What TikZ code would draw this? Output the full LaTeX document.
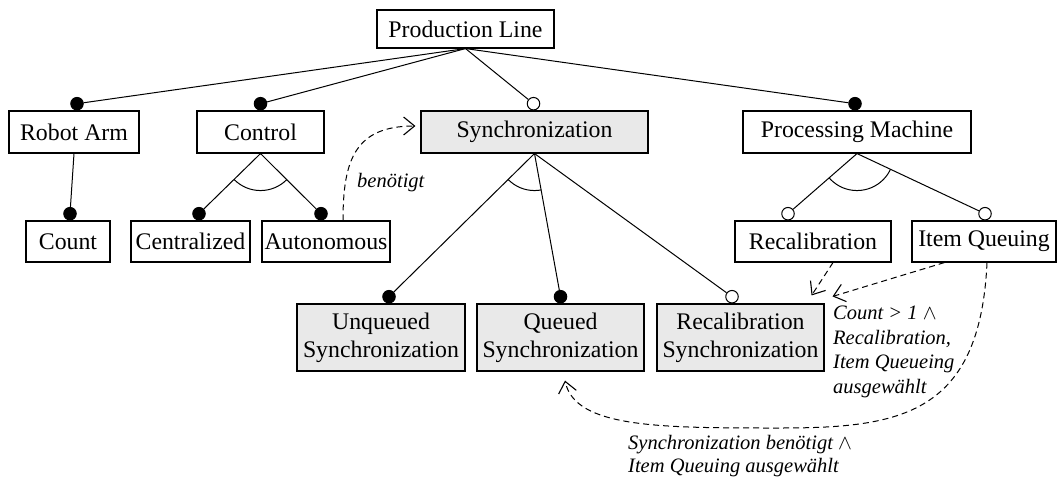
\documentclass[tikz,border=0pt]{standalone}
\usepackage{fontspec}
\setmainfont{Liberation Serif}
\usetikzlibrary{arrows.meta,calc}
\definecolor{featfill}{RGB}{233,233,233}
\begin{document}
\begin{tikzpicture}[x=1pt,y=1pt,
  feature/.style={draw, line width=1.1pt, inner sep=0pt,
    font=\fontsize{23.8}{28}\selectfont, align=center, minimum height=42pt},
  abstractfeat/.style={feature, fill=featfill},
  mand/.style={circle, draw, fill=black, line width=1pt, inner sep=0pt, minimum size=12.5pt, anchor=south},
  opt/.style={circle, draw, fill=white, line width=1pt, inner sep=0pt, minimum size=12.5pt, anchor=south},
  link/.style={line width=1pt},
  dep/.style={line width=1pt, dash pattern=on 6pt off 4pt,
    -{Straight Barb[length=11pt,width=18pt,line width=1.1pt]}},
  note/.style={font=\fontsize{20.5}{24.5}\selectfont\itshape, inner sep=0pt, align=left}
]
\useasboundingbox (0,0) rectangle (1059,-479);

% features
\node[feature, minimum width=177pt, minimum height=38pt] (prod) at (465.5,-29) {Production Line};
\node[feature, minimum width=130pt] (robot) at (74,-132) {Robot Arm};
\node[feature, minimum width=127pt] (control) at (260.5,-132) {Control};
\node[abstractfeat, minimum width=227pt] (sync) at (534.5,-132) {Synchronization};
\node[feature, minimum width=228pt] (pm) at (857,-132) {Processing Machine};
\node[feature, minimum width=84pt, minimum height=41pt] (count) at (68,-241.5) {Count};
\node[feature, minimum width=119pt, minimum height=41pt] (central) at (190.5,-241.5) {Centralized};
\node[feature, minimum width=128pt, minimum height=41pt] (auto) at (326,-241.5) {Autonomous};
\node[feature, minimum width=156pt, minimum height=41pt] (recal) at (813,-241.5) {Recalibration};
\node[feature, minimum width=144pt, minimum height=41pt] (itemq) at (984,-241.5) {Item Queuing};
\node[abstractfeat, minimum width=168pt, minimum height=67pt] (unq) at (381,-337.5) {Unqueued\\Synchronization};
\node[abstractfeat, minimum width=167pt, minimum height=67pt] (que) at (560.5,-337.5) {Queued\\Synchronization};
\node[abstractfeat, minimum width=167pt, minimum height=67pt] (recsync) at (740.5,-337.5) {Recalibration\\Synchronization};

% mandatory / optional markers
\node[mand] (robot-m) at ($(robot.north)+(3,0)$) {};
\node[mand] (control-m) at (control.north) {};
\node[opt] (sync-o) at ($(sync.north)+(-1,0)$) {};
\node[mand] (pm-m) at ($(pm.north)+(-2,0)$) {};
\node[mand] (count-m) at ($(count.north)+(2,0)$) {};
\node[mand] (central-m) at ($(central.north)+(8.5,0)$) {};
\node[mand] (auto-m) at ($(auto.north)+(-5,0)$) {};
\node[opt] (recal-o) at ($(recal.north)+(-25,0)$) {};
\node[opt] (itemq-o) at ($(itemq.north)+(1,0)$) {};
\node[mand] (unq-m) at ($(unq.north)+(8,0)$) {};
\node[mand] (que-m) at (que.north) {};
\node[opt] (recsync-o) at ($(recsync.north)+(-8.5,0)$) {};

% tree edges
\foreach \c in {robot-m, control-m, sync-o, pm-m}
  \draw[link] (prod.south) -- (\c);
\draw[link] (robot.south) -- (count-m);
\draw[link] (control.south) -- (central-m);
\draw[link] (control.south) -- (auto-m);
\draw[link] (sync.south) -- (unq-m);
\draw[link] (sync.south) -- (que-m);
\draw[link] (sync.south) -- (recsync-o);
\draw[link] (pm.south) -- (recal-o);
\draw[link] (pm.south) -- (itemq-o);

% group arcs
\begin{scope}
  \clip (control.south) -- (central-m.center) -- (auto-m.center) -- cycle;
  \draw[link] (control.south) circle[radius=37];
\end{scope}
\begin{scope}
  \clip (sync.south) -- (unq-m.center) -- (que-m.center) -- cycle;
  \draw[link] (sync.south) circle[radius=37];
\end{scope}
\begin{scope}
  \clip (pm.south) -- (recal-o.center) -- (itemq-o.center) -- cycle;
  \draw[link] (pm.south) circle[radius=37];
\end{scope}

% cross-tree constraints
\draw[dep] ($(auto.north)+(17,0)$) .. controls (343,-160) and (355,-126) .. ($(sync.west)+(-5,6)$);
\node[note, anchor=west] (req) at (357,-183) {benötigt};

\draw[dep] ($(recal.south)+(20,0)$) -- ($(recsync.north east)+(-13,8)$);
\draw[dep] ($(itemq.south west)+(33,0)$) -- ($(recsync.north east)+(8,7)$);
\node[note, anchor=north west] (cond1) at (833,-306)
  {Count > 1 $\wedge$\\Recalibration,\\Item Queueing\\ausgewählt};

\draw[dep] ($(itemq.south)+(3,0)$) .. controls (980,-415) and (900,-428) .. (780,-428)
  .. controls (660,-428) and (575,-428) .. ($(que.south)+(4.5,-9)$);
\node[note, anchor=north west, font=\fontsize{20.5}{23}\selectfont\itshape] (cond2) at (628,-435)
  {Synchronization benötigt $\wedge$\\Item Queuing ausgewählt};
\end{tikzpicture}
\end{document}
